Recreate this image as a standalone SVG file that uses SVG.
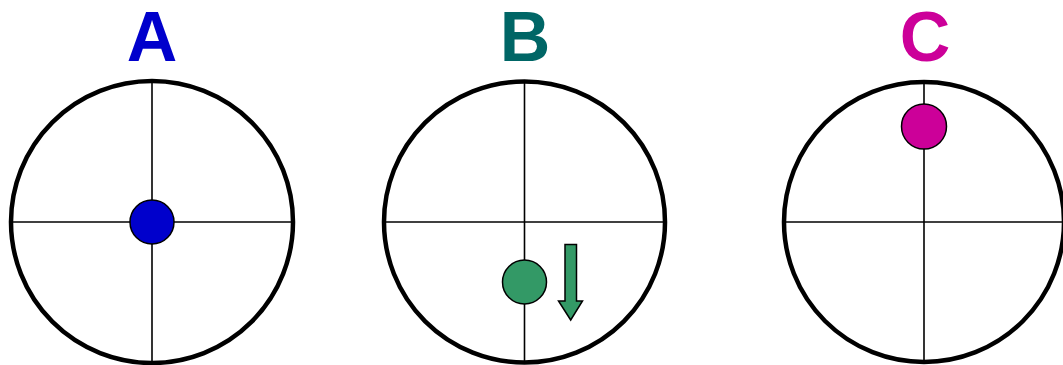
<svg xmlns="http://www.w3.org/2000/svg" width="1063" height="365" viewBox="0 0 1063 365">
<style>
.ring{fill:none;stroke:#000;stroke-width:4.5}
.axis{stroke:#000;stroke-width:1.6}
.dot{stroke:#000;stroke-width:1.5}
.lbl{font-family:"Liberation Sans",Arial,sans-serif;font-weight:bold;font-size:70px;text-anchor:middle}
</style>
<rect width="1063" height="365" fill="#fff"/>
<g id="panelA">
<text class="lbl" x="152" y="61" fill="#0000CC">A</text>
<circle class="ring" cx="152" cy="222" r="141"/>
<line class="axis" x1="152" y1="81" x2="152" y2="363"/>
<line class="axis" x1="11" y1="222" x2="293" y2="222"/>
<circle class="dot" cx="152" cy="222" r="22" fill="#0000CC"/>
</g>
<g id="panelB">
<text class="lbl" x="525" y="61" fill="#006666">B</text>
<circle class="ring" cx="524.5" cy="222" r="140.5"/>
<line class="axis" x1="524.5" y1="81.5" x2="524.5" y2="362.5"/>
<line class="axis" x1="384" y1="222" x2="665" y2="222"/>
<circle class="dot" cx="524.5" cy="282" r="22" fill="#339966"/>
<polygon class="dot" points="565,244.5 576.5,244.5 576.5,301 582.5,301 570.7,320 558.5,301 565,301" fill="#339966" stroke-width="1.2"/>
</g>
<g id="panelC">
<text class="lbl" x="925" y="61" fill="#CC0099">C</text>
<circle class="ring" cx="924" cy="222" r="140"/>
<line class="axis" x1="924" y1="82" x2="924" y2="362"/>
<line class="axis" x1="784" y1="222" x2="1064" y2="222"/>
<circle class="dot" cx="924" cy="126.5" r="22.5" fill="#CC0099"/>
</g>
<g id="connectors"/>
</svg>
